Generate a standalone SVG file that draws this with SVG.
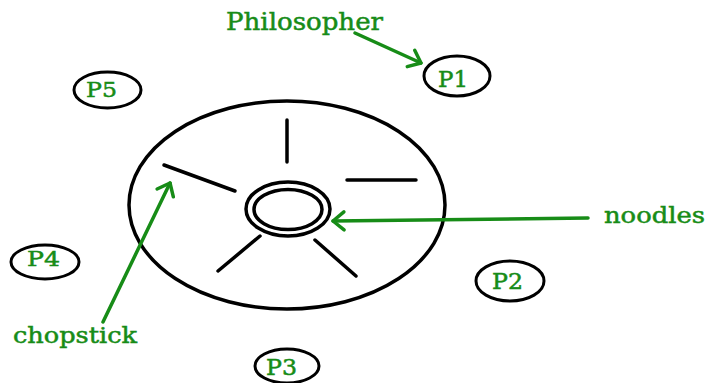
<svg xmlns="http://www.w3.org/2000/svg" width="708" height="383" viewBox="0 0 708 383">
<defs>
<style>
.blk{fill:none;stroke:#000;stroke-width:3.5;stroke-linecap:round}
.pn{fill:none;stroke:#000;stroke-width:3}
.gr{fill:none;stroke:#178c17;stroke-width:3.5;stroke-linecap:round}
.lbl{font-family:"DejaVu Serif","Liberation Serif",serif;fill:#178c17;stroke:#178c17;stroke-width:0.5}
</style>
<marker id="ah" markerUnits="userSpaceOnUse" markerWidth="24" markerHeight="24" viewBox="-14 -12 18 24" refX="0" refY="0" orient="auto">
<path d="M-11,-9 L0,0 L-11,9" fill="none" stroke="#178c17" stroke-width="3.5" stroke-linecap="round" stroke-linejoin="round"/>
</marker>
</defs>
<rect width="708" height="383" fill="#fff"/>
<g id="table">
<ellipse class="blk" cx="287" cy="205" rx="158" ry="104"/>
<line class="blk" x1="287" y1="120" x2="287" y2="162"/>
<line class="blk" x1="347" y1="180" x2="416" y2="180"/>
<line class="blk" x1="164" y1="165" x2="235" y2="191"/>
<line class="blk" x1="260" y1="236" x2="218" y2="271"/>
<line class="blk" x1="315" y1="240" x2="356" y2="276"/>
</g>
<g id="noodles-bowl">
<ellipse class="blk" cx="288" cy="209" rx="42" ry="27"/>
<ellipse class="blk" cx="288" cy="209.5" rx="34" ry="20"/>
</g>
<g id="P1"><ellipse class="pn" cx="457" cy="76" rx="33" ry="20"/><text class="lbl" x="438" y="87" font-size="22" textLength="30" lengthAdjust="spacingAndGlyphs">P1</text></g>
<g id="P2"><ellipse class="pn" cx="510" cy="281" rx="34" ry="20"/><text class="lbl" x="492" y="289" font-size="22" textLength="31" lengthAdjust="spacingAndGlyphs">P2</text></g>
<g id="P3"><ellipse class="pn" cx="287" cy="366" rx="32" ry="17"/><text class="lbl" x="266" y="375" font-size="22" textLength="31" lengthAdjust="spacingAndGlyphs">P3</text></g>
<g id="P4"><ellipse class="pn" cx="45" cy="262" rx="34" ry="17"/><text class="lbl" x="27" y="266" font-size="21" textLength="33" lengthAdjust="spacingAndGlyphs">P4</text></g>
<g id="P5"><ellipse class="pn" cx="107.5" cy="90" rx="33.5" ry="18"/><text class="lbl" x="86" y="97" font-size="21" textLength="31" lengthAdjust="spacingAndGlyphs">P5</text></g>
<g id="labels">
<text class="lbl" x="226" y="30" font-size="24" textLength="157" lengthAdjust="spacingAndGlyphs">Philosopher</text>
<text class="lbl" x="604" y="223" font-size="22" textLength="101" lengthAdjust="spacingAndGlyphs">noodles</text>
<text class="lbl" x="13" y="343" font-size="22" textLength="124" lengthAdjust="spacingAndGlyphs">chopstick</text>
</g>
<g id="connectors">
<line class="gr" x1="355" y1="33" x2="421" y2="63" marker-end="url(#ah)"/>
<line class="gr" x1="588" y1="218" x2="333" y2="221" marker-end="url(#ah)"/>
<line class="gr" x1="103" y1="322" x2="170" y2="183" marker-end="url(#ah)"/>
</g>
</svg>
